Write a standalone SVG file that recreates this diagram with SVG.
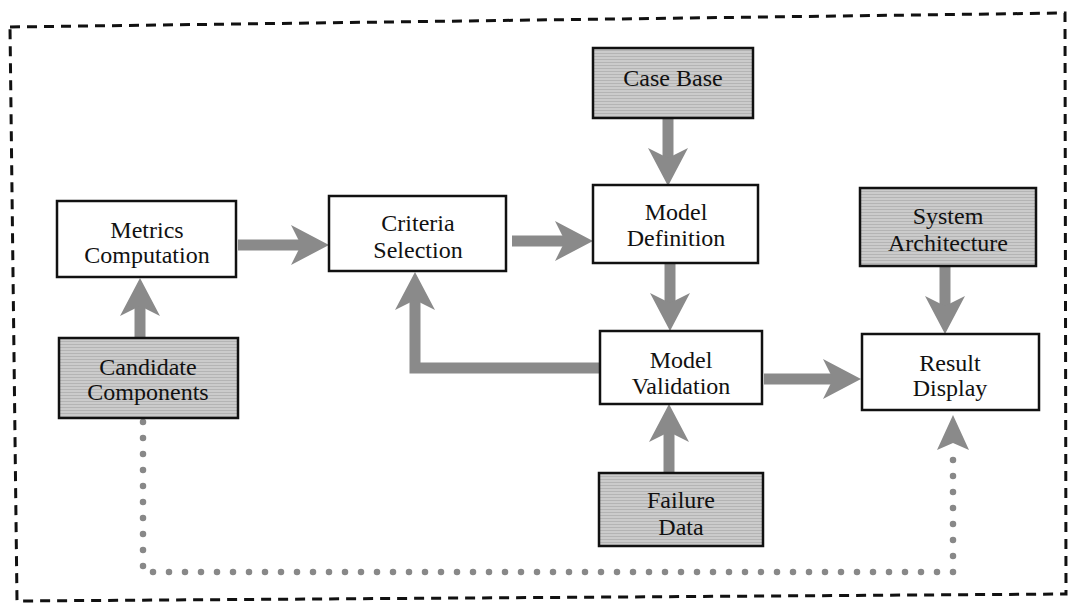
<svg xmlns="http://www.w3.org/2000/svg" width="1070" height="604" viewBox="0 0 1070 604">
  <style>
    .box { stroke: #111; stroke-width: 2.5; }
    .plain { fill: #ffffff; }
    .shade { fill: url(#hatch); }
    .lbl { font-family: "Liberation Serif", "Times New Roman", serif; font-size: 24px; fill: #111; text-anchor: middle; }
    .arr { fill: none; stroke: #8a8a8a; stroke-width: 11; stroke-linecap: butt; stroke-linejoin: miter; marker-end: url(#head); }
    .dot { fill: none; stroke: #888888; stroke-width: 6.5; stroke-linecap: round; stroke-dasharray: 0 16; }
    .border { fill: none; stroke: #111; stroke-width: 3; stroke-dasharray: 10 7; }
  </style>
  <defs>
    <pattern id="hatch" width="6" height="3" patternUnits="userSpaceOnUse">
      <rect width="6" height="3" fill="#cbcbcb"/>
      <rect y="2" width="6" height="1" fill="#b4b4b4"/>
    </pattern>
    <marker id="head" markerUnits="userSpaceOnUse" markerWidth="40" markerHeight="44" viewBox="0 -22 40 44" refX="10" refY="0" orient="auto">
      <path d="M0,-20 L38,0 L0,20 L10,0 Z" fill="#8a8a8a"/>
    </marker>
  </defs>

  <path class="border" d="M10,27 L1065,13 L1066,594 L17,601 Z"/>

  <g id="connectors">
    <path class="arr" d="M140,338 L140,306"/>
    <path class="arr" d="M238,245 L301,245"/>
    <path class="arr" d="M512,241 L565,241"/>
    <path class="arr" d="M668,118 L668,158"/>
    <path class="arr" d="M670,263 L670,303"/>
    <path class="arr" d="M669,473 L669,432"/>
    <path class="arr" d="M600,368 L415,368 L415,300"/>
    <path class="arr" d="M764,379 L833,379"/>
    <path class="arr" d="M945,266 L945,306"/>
    <path class="dot" d="M143,422 L143,572 L953,572 L953,452"/>
    <path d="M937,450 L953,415 L969,450 L953,443 Z" fill="#8a8a8a"/>
  </g>

  <g id="case-base">
    <rect class="box shade" x="593" y="48" width="160" height="70"/>
    <text class="lbl" x="673" y="86">Case Base</text>
  </g>
  <g id="metrics-computation">
    <rect class="box plain" x="57" y="201" width="179" height="76"/>
    <text class="lbl" x="147" y="238">Metrics</text>
    <text class="lbl" x="147" y="263">Computation</text>
  </g>
  <g id="candidate-components">
    <rect class="box shade" x="59" y="338" width="179" height="80"/>
    <text class="lbl" x="148" y="375">Candidate</text>
    <text class="lbl" x="148" y="400">Components</text>
  </g>
  <g id="criteria-selection">
    <rect class="box plain" x="329" y="196" width="177" height="75"/>
    <text class="lbl" x="418" y="231">Criteria</text>
    <text class="lbl" x="418" y="258">Selection</text>
  </g>
  <g id="model-definition">
    <rect class="box plain" x="593" y="185" width="165" height="78"/>
    <text class="lbl" x="676" y="220">Model</text>
    <text class="lbl" x="676" y="246">Definition</text>
  </g>
  <g id="model-validation">
    <rect class="box plain" x="600" y="331" width="162" height="73"/>
    <text class="lbl" x="681" y="368">Model</text>
    <text class="lbl" x="681" y="394">Validation</text>
  </g>
  <g id="failure-data">
    <rect class="box shade" x="599" y="473" width="164" height="73"/>
    <text class="lbl" x="681" y="508">Failure</text>
    <text class="lbl" x="681" y="535">Data</text>
  </g>
  <g id="system-architecture">
    <rect class="box shade" x="860" y="188" width="176" height="78"/>
    <text class="lbl" x="948" y="224">System</text>
    <text class="lbl" x="948" y="251">Architecture</text>
  </g>
  <g id="result-display">
    <rect class="box plain" x="862" y="334" width="177" height="76"/>
    <text class="lbl" x="950" y="371">Result</text>
    <text class="lbl" x="950" y="396">Display</text>
  </g>
</svg>
